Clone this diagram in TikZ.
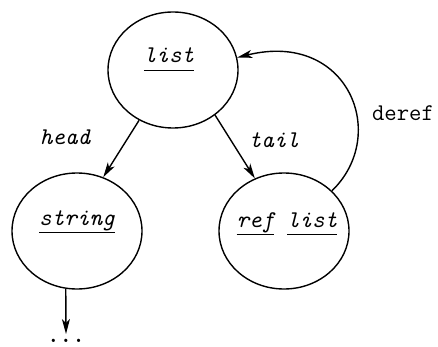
\documentclass[tikz,border=0pt]{standalone}
\usepackage{fontspec}
\usetikzlibrary{shapes.geometric,arrows.meta}

% underlined word with the rule set a fixed distance below the baseline
\newcommand\ulword[1]{\setbox0\hbox{#1}\rlap{\rule[-8pt]{\wd0}{1.4pt}}\box0}

\begin{document}
\begin{tikzpicture}[x=1pt,y=-1pt,
  typeface/.style={font=\fontsize{24}{28}\selectfont\ttfamily},
  slanted/.style={font=\fontsize{24}{28}\selectfont\ttfamily\itshape},
  state/.style={draw,ellipse,line width=1.4pt,minimum width=130pt,minimum height=116pt,inner sep=0pt},
  wordtxt/.style={slanted,anchor=base,inner sep=0pt},
  edgelabel/.style={typeface,inner sep=0pt},
  link/.style={line width=1.4pt,-{Stealth[length=15pt,width=8pt,inset=4pt]}}]
\useasboundingbox (0,0) rectangle (438,347);

% the three states
\node[state] (list) at (173,70) {};
\node[state] (string) at (77,231) {};
\node[state] (ref) at (284,231) {};

\node[wordtxt] (listtxt) at (169,63) {\ulword{list}};
\node[wordtxt] (stringtxt) at (77,225) {\ulword{string}};
\node[wordtxt] (reftxt) at (287,227) {\ulword{ref}\ \ulword{list}};

% transitions
\draw[link] (list.236) -- (string.64);
\draw[link] (list.313) -- (ref.119);
\draw[link] (ref.40.5) .. controls (390,135) and (348,30) .. (list.11.5);

\coordinate (more) at (66,334);
\draw[link] (string.259) -- (more);
\node[edgelabel,font=\fontsize{24}{28}\selectfont\ttfamily\bfseries,anchor=base] (dots) at (66,342) {...};

% edge labels
\node[edgelabel,slanted] (head) at (65,137) {head};
\node[edgelabel,slanted] (tail) at (274,140) {tail};
\node[edgelabel] (deref) at (403,113) {deref};
\end{tikzpicture}
\end{document}
